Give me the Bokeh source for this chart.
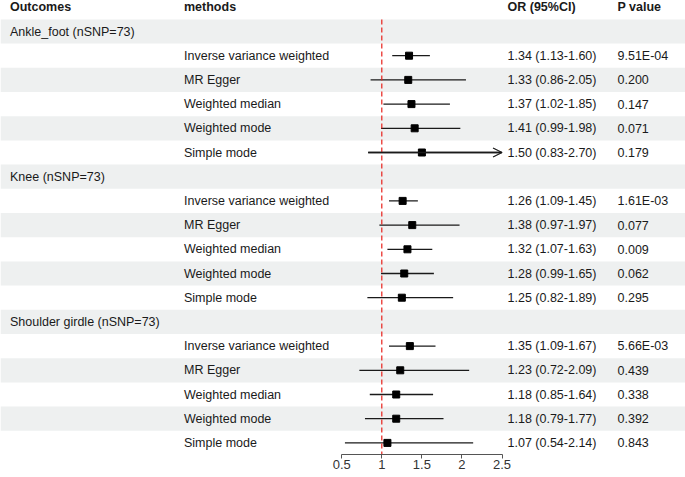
from bokeh.plotting import figure
from bokeh.models import Range1d, ColumnDataSource, Arrow, OpenHead, FixedTicker
from bokeh.core.properties import value
from bokeh.embed import file_html
from bokeh.resources import INLINE

# ---------------- data ----------------
outcomes = ["Ankle_foot (nSNP=73)", "Knee (nSNP=73)", "Shoulder girdle (nSNP=73)"]
methods = ["Inverse variance weighted", "MR Egger", "Weighted median",
           "Weighted mode", "Simple mode"]

or_ankle = [1.34, 1.33, 1.37, 1.41, 1.50]
lo_ankle = [1.13, 0.86, 1.02, 0.99, 0.83]
hi_ankle = [1.60, 2.05, 1.85, 1.98, 2.70]
p_ankle = ["9.51E-04", "0.200", "0.147", "0.071", "0.179"]

or_knee = [1.26, 1.38, 1.32, 1.28, 1.25]
lo_knee = [1.09, 0.97, 1.07, 0.99, 0.82]
hi_knee = [1.45, 1.97, 1.63, 1.65, 1.89]
p_knee = ["1.61E-03", "0.077", "0.009", "0.062", "0.295"]

or_shoulder = [1.35, 1.23, 1.18, 1.18, 1.07]
lo_shoulder = [1.09, 0.72, 0.85, 0.79, 0.54]
hi_shoulder = [1.67, 2.09, 1.64, 1.77, 2.14]
p_shoulder = ["5.66E-03", "0.439", "0.338", "0.392", "0.843"]

tick_vals = [0.5, 1.0, 1.5, 2.0, 2.5]
tick_labels = ["0.5", "1", "1.5", "2", "2.5"]
x_lim = (0.5, 2.5)
ref_value = 1.0

headers = ["Outcomes", "methods", "OR (95%CI)", "P value"]

# ---------------- layout constants ----------------
W, H = 685, 477
PX_ONE, PX_PER = 381.3, 80.15      # pixel of OR=1, pixels per OR unit
ROW0_Y, ROW_H, AXIS_Y = 31.0, 24.2, 454.0
COL_PX = [9.5, 183.5, 507.0, 617.0]
FONT = value("Liberation Sans")
FSIZE = value("12.5px")
TXT = "#1a1a1a"


def px_x(px):
    return ref_value + (px - PX_ONE) / PX_PER


x_range = Range1d(px_x(0), px_x(W))
y_range = Range1d((AXIS_Y - ROW0_Y) / ROW_H, -ROW0_Y / ROW_H)

groups = [
    (outcomes[0], or_ankle, lo_ankle, hi_ankle, p_ankle),
    (outcomes[1], or_knee, lo_knee, hi_knee, p_knee),
    (outcomes[2], or_shoulder, lo_shoulder, hi_shoulder, p_shoulder),
]

grp_rows, grp_txt = [], []
m_rows, m_txt, m_or, m_lo, m_hi, m_hi_c, m_ortxt, m_p = [], [], [], [], [], [], [], []
r = 0
for name, ors, los, his, ps in groups:
    grp_rows.append(r)
    grp_txt.append(name)
    r += 1
    for m, o, lo, hi, pv in zip(methods, ors, los, his, ps):
        m_rows.append(r)
        m_txt.append(m)
        m_or.append(o)
        m_lo.append(lo)
        m_hi.append(hi)
        m_hi_c.append(min(hi, x_lim[1]))
        m_ortxt.append(f"{o:.2f} ({lo:.2f}-{hi:.2f})")
        m_p.append(pv)
        r += 1
n_rows = r

p = figure(width=W, height=H, x_range=x_range, y_range=y_range,
           output_backend="svg", toolbar_location=None,
           y_axis_location=None, min_border=0, min_border_bottom=int(H - AXIS_Y),
           outline_line_color=None, background_fill_color="white",
           border_fill_color="white")
p.grid.visible = False

# zebra bands
band_rows = list(range(0, n_rows, 2))
p.hbar(y=band_rows, left=x_range.start, right=x_range.end, height=1.0,
       fill_color="#EEF0F0", line_color=None)

src = ColumnDataSource(dict(y=m_rows, txt=m_txt, orv=m_or, lo=m_lo, hi=m_hi,
                            hic=m_hi_c, ortxt=m_ortxt, pv=m_p))

# CI lines
p.segment(x0="lo", x1="hic", y0="y", y1="y", source=src,
          line_color="#1a1a1a", line_width=1.3)
for y, lo, hi in zip(m_rows, m_lo, m_hi):
    if hi > x_lim[1]:
        p.add_layout(Arrow(end=OpenHead(size=9, line_width=1.3, line_color="#1a1a1a"),
                           x_start=lo, y_start=y, x_end=x_lim[1], y_end=y,
                           line_width=1.3, line_color="#1a1a1a"))

# reference line
p.segment(x0=[ref_value], x1=[ref_value], y0=[-0.5], y1=[n_rows - 0.5],
          line_color="#E8201A", line_width=1.2, line_dash="5 3")

# point estimates
p.scatter(x="orv", y="y", source=src, marker="square", size=7,
          fill_color="black", line_color="black")

# header texts
p.text(x=[px_x(c) for c in COL_PX], y=[-1] * 4, text=headers,
       text_font=FONT, text_font_size=FSIZE, text_font_style="bold",
       text_baseline="middle", text_align="left", text_color=TXT)
# group labels
p.text(x=[px_x(COL_PX[0])] * len(grp_rows), y=grp_rows, text=grp_txt,
       text_font=FONT, text_font_size=FSIZE, text_baseline="middle",
       text_align="left", text_color=TXT)
# method labels and values
p.text(x=px_x(COL_PX[1]), y="y", text="txt", source=src,
       text_font=FONT, text_font_size=FSIZE, text_baseline="middle",
       text_align="left", text_color=TXT)
p.text(x=px_x(COL_PX[2]), y="y", text="ortxt", source=src,
       text_font=FONT, text_font_size=FSIZE, text_baseline="middle",
       text_align="left", text_color=TXT)
p.text(x=px_x(COL_PX[3]), y="y", text="pv", source=src,
       text_font=FONT, text_font_size=FSIZE, text_baseline="middle",
       text_align="left", text_color=TXT)

# x axis
ax = p.xaxis[0]
ax.ticker = FixedTicker(ticks=tick_vals)
ax.major_label_overrides = dict(zip(tick_vals, tick_labels))
ax.bounds = x_lim
ax.axis_line_color = "#555555"
ax.major_tick_line_color = "#555555"
ax.major_tick_out = 4
ax.major_tick_in = 0
ax.minor_tick_line_color = None
ax.major_label_standoff = 1
ax.major_label_text_font = "Liberation Sans"
ax.major_label_text_font_size = "13px"
ax.major_label_text_color = "#333333"

open("out.html", "w").write(file_html(p, INLINE))
